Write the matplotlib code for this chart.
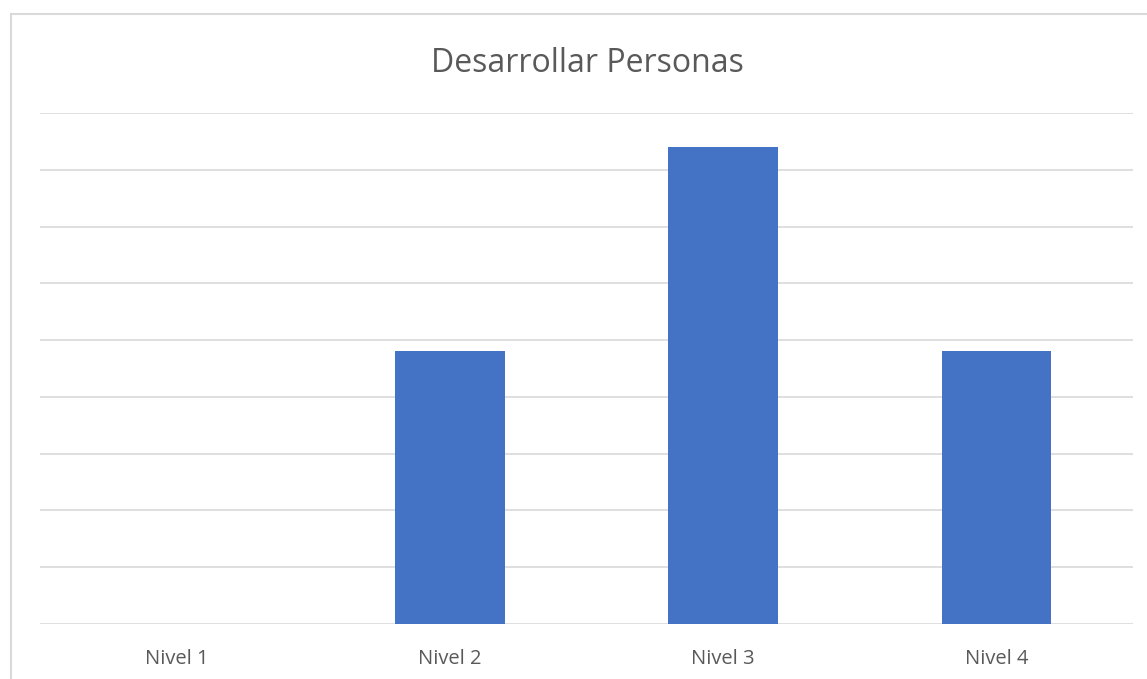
import matplotlib
matplotlib.use("Agg")
import matplotlib.pyplot as plt
from matplotlib.lines import Line2D

categories = ["Nivel 1", "Nivel 2", "Nivel 3", "Nivel 4"]
values = [0, 4.8, 8.4, 4.8]
title = "Desarrollar Personas"

W, H = 1147, 679
fig = plt.figure(figsize=(W / 100, H / 100), dpi=100)
plt.rcParams['font.family'] = ['Open Sans', 'DejaVu Sans']

# chart frame (cropped on right and bottom)
fig.add_artist(Line2D([11 / W, 11 / W], [0, 1 - 14 / H], color='#d9d9d9', lw=1.5))
fig.add_artist(Line2D([11 / W, 1], [1 - 14 / H, 1 - 14 / H], color='#d9d9d9', lw=1.5))

ax = fig.add_axes([40 / W, 55 / H, 1093 / W, 511 / H])
x = range(len(categories))
ax.bar(x, values, width=0.4, color='#4472c4', zorder=3)
ax.set_xlim(-0.5, len(categories) - 0.5)
ax.set_ylim(0, 9)
ax.set_yticks(range(0, 10))
ax.yaxis.grid(True, color='#d9d9d9', lw=1.2)
ax.tick_params(axis='y', left=False, labelleft=False)
ax.set_xticks(list(x))
ax.set_xticklabels(categories, fontsize=14.5, color='#595959')
ax.tick_params(axis='x', length=0, pad=18)
for s in ax.spines.values():
    s.set_visible(False)

fig.text(587 / W, 1 - 63 / H, title, ha='center', va='center', fontsize=23, color='#595959')

fig.savefig("out.png", dpi=100)
